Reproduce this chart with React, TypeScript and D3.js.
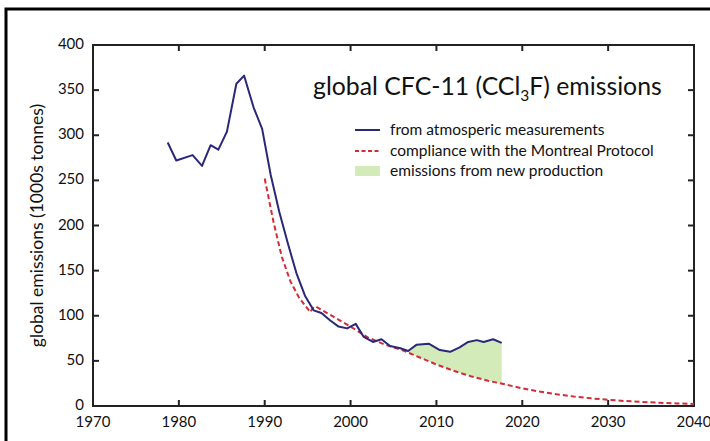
import React, { useEffect, useRef } from 'react'
import * as d3 from 'd3'

const measYears = [1978.7, 1979.7, 1981.6, 1982.7, 1983.7, 1984.6, 1985.6, 1986.7, 1987.6, 1988.7, 1989.7,
  1990.7, 1991.7, 1992.7, 1993.7, 1994.7, 1995.7, 1996.6, 1997.6, 1998.6, 1999.6, 2000.6, 2001.5, 2002.6,
  2003.6, 2004.6, 2005.8, 2006.7, 2007.7, 2009.1, 2010.4, 2011.6, 2012.7, 2013.7, 2014.7, 2015.5, 2016.6, 2017.6]
const measValues = [292, 272, 278, 266, 289, 284, 304, 357, 366, 331, 307,
  256, 215, 180, 147, 122, 106, 103, 95, 88, 86, 91, 77, 71,
  74, 66.5, 64, 61, 68, 69, 62, 60, 65, 71, 73, 71, 74, 70]

// Montreal Protocol compliance (red dashed)
const compYears = [1990, 1991, 1992, 1993, 1994, 1995.3, 1995.7, 1996, 1998, 2000, 2002, 2004, 2006, 2008,
  2010, 2012, 2014, 2016, 2018, 2020, 2022, 2024, 2026, 2028, 2030, 2032, 2034, 2036, 2038, 2040]
const compValues = [252, 205, 165, 138, 120, 104, 110, 110, 99, 88, 76, 68, 62, 54,
  46, 39, 33, 28, 24, 19.5, 16, 13, 10.5, 8.5, 6.8, 5.5, 4.5, 3.6, 2.9, 2.3]

const xTicks = [1970, 1980, 1990, 2000, 2010, 2020, 2030, 2040]
const yTicks = [0, 50, 100, 150, 200, 250, 300, 350, 400]
const newProdStart = 2006.7

const legendLabels = ['from atmosperic measurements', 'compliance with the Montreal Protocol', 'emissions from new production']

const FONT = 'Lato, "Open Sans", sans-serif'
const BLUE = '#2a2878'
const RED = '#d42a3a'
const GREEN = '#d3ebb9'

export default function App() {
  const ref = useRef<SVGSVGElement>(null)

  useEffect(() => {
    const svg = d3.select(ref.current)
    svg.selectAll('*').remove()

    const left = 93, right = 694, top = 45, bottom = 406

    const x = d3.scaleLinear().domain([1970, 2040]).range([left, right])
    const y = d3.scaleLinear().domain([0, 400]).range([bottom, top])

    // outer frame
    svg.append('rect')
      .attr('x', 6).attr('y', 9).attr('width', 740).attr('height', 460)
      .attr('fill', 'white').attr('stroke', '#000').attr('stroke-width', 3)

    // compliance curve value at a given year
    const compAt = (yr: number) => {
      const i = d3.bisectRight(compYears, yr)
      if (i <= 0) return compValues[0]
      if (i >= compYears.length) return compValues[compValues.length - 1]
      const t = (yr - compYears[i - 1]) / (compYears[i] - compYears[i - 1])
      return compValues[i - 1] + t * (compValues[i] - compValues[i - 1])
    }

    // green area: new production
    const areaPts = measYears.map((yr, i) => ({ yr, v: measValues[i] })).filter(d => d.yr >= newProdStart)
    svg.append('path')
      .datum(areaPts)
      .attr('fill', GREEN)
      .attr('d', d3.area<any>()
        .x(d => x(d.yr))
        .y0(d => y(compAt(d.yr)))
        .y1(d => y(d.v)))

    // plot box
    svg.append('rect')
      .attr('x', left).attr('y', top).attr('width', right - left).attr('height', bottom - top)
      .attr('fill', 'none').attr('stroke', '#222').attr('stroke-width', 2)

    const tk = 6
    const ticks = svg.append('g').attr('stroke', '#222').attr('stroke-width', 2)
    xTicks.slice(1, -1).forEach(t => {
      ticks.append('line').attr('x1', x(t)).attr('x2', x(t)).attr('y1', bottom).attr('y2', bottom - tk)
      ticks.append('line').attr('x1', x(t)).attr('x2', x(t)).attr('y1', top).attr('y2', top + tk)
    })
    yTicks.slice(1, -1).forEach(t => {
      ticks.append('line').attr('x1', left).attr('x2', left + tk).attr('y1', y(t)).attr('y2', y(t))
      ticks.append('line').attr('x1', right).attr('x2', right - tk).attr('y1', y(t)).attr('y2', y(t))
    })

    // tick labels
    svg.append('g').selectAll('text').data(xTicks).enter().append('text')
      .attr('x', d => x(d)).attr('y', bottom + 21)
      .attr('text-anchor', 'middle')
      .style('font-family', FONT).style('font-size', '15px').attr('fill', '#111')
      .text(d => d)
    svg.append('g').selectAll('text').data(yTicks).enter().append('text')
      .attr('x', left - 9).attr('y', d => y(d) + 4)
      .attr('text-anchor', 'end')
      .style('font-family', FONT).style('font-size', '15px').attr('fill', '#111')
      .text(d => d)

    // y axis title
    svg.append('text')
      .attr('transform', 'translate(43,' + ((top + bottom) / 2) + ') rotate(-90)')
      .attr('text-anchor', 'middle')
      .style('font-family', FONT).style('font-size', '17.5px').attr('fill', '#111')
      .text('global emissions (1000s tonnes)')

    // compliance line
    const line = d3.line<number>()
      .x((d, i) => x(compYears[i]))
      .y(d => y(d))
    svg.append('path')
      .datum(compValues)
      .attr('fill', 'none').attr('stroke', RED).attr('stroke-width', 2)
      .attr('stroke-dasharray', '5,3')
      .attr('d', line)

    // measurements line
    svg.append('path')
      .datum(measValues)
      .attr('fill', 'none').attr('stroke', BLUE).attr('stroke-width', 2)
      .attr('stroke-linejoin', 'round')
      .attr('d', d3.line<number>().x((d, i) => x(measYears[i])).y(d => y(d)))

    // chart title with subscript
    const title = svg.append('text')
      .attr('x', 313).attr('y', 95)
      .style('font-family', FONT).style('font-size', '24.8px').attr('fill', '#111')
    title.append('tspan').text('global CFC-11 (CCl')
    title.append('tspan').attr('dy', 6).style('font-size', '15.5px').text('3')
    title.append('tspan').attr('dy', -6).text('F) emissions')

    // legend
    const lg = svg.append('g').attr('transform', 'translate(355,130)')
    lg.append('line').attr('x1', 0).attr('x2', 25).attr('y1', 0).attr('y2', 0)
      .attr('stroke', BLUE).attr('stroke-width', 2)
    lg.append('line').attr('x1', 0).attr('x2', 25).attr('y1', 21).attr('y2', 21)
      .attr('stroke', RED).attr('stroke-width', 2).attr('stroke-dasharray', '4,2.5')
    lg.append('rect').attr('x', 0).attr('y', 36).attr('width', 25).attr('height', 10).attr('fill', GREEN)
    lg.selectAll('text.lbl').data(legendLabels).enter().append('text')
      .attr('class', 'lbl')
      .attr('x', 35).attr('y', (d, i) => i * 20.5 + 5)
      .style('font-family', FONT).style('font-size', '15.5px').attr('fill', '#111')
      .text(d => d)
  }, [])

  return (
    <svg ref={ref} width={710} height={441} style={{ position: 'absolute', left: 0, top: 0, background: 'white' }} />
  )
}
